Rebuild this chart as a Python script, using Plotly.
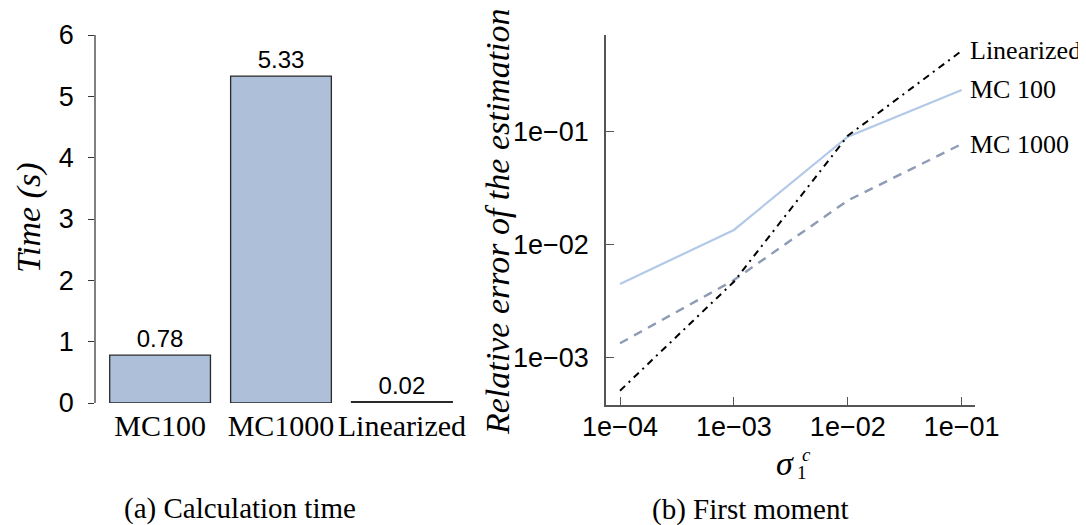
import math
import plotly.graph_objects as go

# ---- data: panel (a) ----
methods = ["MC100", "MC1000", "Linearized"]
times = [0.78, 5.33, 0.02]
time_ticks = [0, 1, 2, 3, 4, 5, 6]

# ---- data: panel (b) ----
sigma = [1e-4, 1e-3, 1e-2, 1e-1]
sigma_ticktext = ["1e\u221204", "1e\u221203", "1e\u221202", "1e\u221201"]
err_mc100 = [0.00449, 0.0135, 0.0903, 0.234]
err_mc1000 = [0.00134, 0.00486, 0.0246, 0.0778]
err_lin = [0.00051, 0.0047, 0.092, 0.52]
err_tickvals = [1e-3, 1e-2, 1e-1]
err_ticktext = ["1e\u221203", "1e\u221202", "1e\u221201"]

# page has an 8px body margin: figure is placed at (8, 8)
OFF = 8
W, H = 1086 - OFF, 525 - OFF
def fx(p): return (p - OFF) / W
def fy(p): return 1 - (p - OFF) / H

SERIF = "Liberation Serif"
SANS = "Liberation Sans"

fig = go.Figure()

fig.add_trace(go.Bar(
    x=methods, y=times, xaxis="x", yaxis="y",
    marker=dict(color="#adbfd9", line=dict(color="#2a2a2a", width=1.3)),
    text=[f"{v:.2f}" for v in times], textposition="outside",
    textfont=dict(family=SANS, size=24, color="black"),
    cliponaxis=False, showlegend=False,
))

series = [
    ("MC 100", err_mc100, dict(color="#b3c9e8", width=2.2, dash="solid")),
    ("MC 1000", err_mc1000, dict(color="#8e9bb5", width=2.4, dash="9px,7px")),
    ("Linearized", err_lin, dict(color="black", width=2, dash="7px,5px,2px,5px")),
]
for name, ys, ln in series:
    fig.add_trace(go.Scatter(x=sigma, y=ys, xaxis="x2", yaxis="y2", mode="lines",
                             line=ln, showlegend=False, cliponaxis=False))

annotations = []
for name, ys, ln in series:
    annotations.append(dict(x=math.log10(sigma[-1]), y=math.log10(ys[-1]), xref="x2", yref="y2",
                            text=name, showarrow=False, xanchor="left", yanchor="middle",
                            xshift=6, font=dict(family=SERIF, size=26, color="black")))

def pa(x, y, text, size, family=SERIF, angle=0, xanchor="center", yanchor="middle"):
    annotations.append(dict(x=fx(x), y=fy(y), xref="paper", yref="paper", text=text,
                            textangle=angle, showarrow=False, xanchor=xanchor, yanchor=yanchor,
                            font=dict(family=family, size=size, color="black")))

pa(29, 218, "<i>Time (s)</i>", 34, angle=-90)
pa(497, 222, "<i>Relative error of the estimation</i>", 34, angle=-90)
pa(785, 463, "<i>σ</i>", 34)
pa(800, 454, "<i>c</i>", 19, xanchor="left")
pa(795, 472, "1", 19, xanchor="left")
pa(240, 508, "(a) Calculation time", 29)
pa(750, 509, "(b) First moment", 29)

fig.update_layout(
    width=W, height=H, margin=dict(l=0, r=0, t=0, b=0, autoexpand=False),
    paper_bgcolor="white", plot_bgcolor="white",
    bargap=1 - 1 / 1.2,
    xaxis=dict(domain=[fx(96), fx(466)], type="category", range=[-0.53, 2.53],
               showline=False, ticks="", showgrid=False, zeroline=False, automargin=False,
               tickfont=dict(family=SERIF, size=30, color="black"), ticklabelstandoff=2),
    yaxis=dict(domain=[fy(403), fy(35)], range=[0, 6], tickvals=time_ticks,
               showline=True, linecolor="#808080", linewidth=1.5, automargin=False,
               ticks="outside", ticklen=6, tickcolor="#333333", tickwidth=1,
               showgrid=False, zeroline=False,
               tickfont=dict(family=SANS, size=27, color="black"), ticklabelstandoff=9),
    xaxis2=dict(domain=[fx(606), fx(975)], type="log", range=[-4.123, -0.883],
                tickvals=sigma, ticktext=sigma_ticktext, anchor="y2", automargin=False,
                showline=True, linecolor="#555555", linewidth=1.5,
                ticks="inside", ticklen=8, tickcolor="#555555", tickwidth=1,
                showgrid=False, zeroline=False,
                tickfont=dict(family=SANS, size=27, color="black"), ticklabelstandoff=-3),
    yaxis2=dict(domain=[fy(405), fy(35)], type="log", range=[-3.419, -0.144],
                tickvals=err_tickvals, ticktext=err_ticktext, anchor="x2", automargin=False,
                showline=True, linecolor="#555555", linewidth=1.5,
                ticks="inside", ticklen=8, tickcolor="#555555", tickwidth=1,
                showgrid=False, zeroline=False,
                tickfont=dict(family=SANS, size=27, color="black"), ticklabelstandoff=10),
    annotations=annotations,
)

fig.write_html("out.html")
